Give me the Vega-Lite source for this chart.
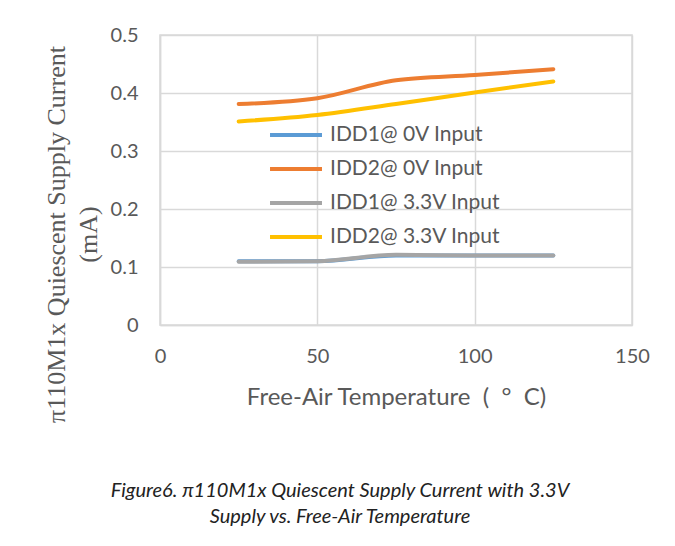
{
  "$schema": "https://vega.github.io/schema/vega-lite/v6.json",
  "width": 472,
  "height": 290,
  "autosize": {"type": "none"},
  "padding": {"left": 160, "top": 35, "right": 43, "bottom": 221},
  "background": "white",
  "data": {
    "values": [
      {"t": 25, "v": 0.11, "s": "IDD1@ 0V Input"},
      {"t": 50, "v": 0.11, "s": "IDD1@ 0V Input"},
      {"t": 75, "v": 0.12, "s": "IDD1@ 0V Input"},
      {"t": 100, "v": 0.12, "s": "IDD1@ 0V Input"},
      {"t": 125, "v": 0.12, "s": "IDD1@ 0V Input"},
      {"t": 25, "v": 0.381, "s": "IDD2@ 0V Input"},
      {"t": 50, "v": 0.391, "s": "IDD2@ 0V Input"},
      {"t": 75, "v": 0.422, "s": "IDD2@ 0V Input"},
      {"t": 100, "v": 0.431, "s": "IDD2@ 0V Input"},
      {"t": 125, "v": 0.441, "s": "IDD2@ 0V Input"},
      {"t": 25, "v": 0.109, "s": "IDD1@ 3.3V Input"},
      {"t": 50, "v": 0.11, "s": "IDD1@ 3.3V Input"},
      {"t": 75, "v": 0.121, "s": "IDD1@ 3.3V Input"},
      {"t": 100, "v": 0.12, "s": "IDD1@ 3.3V Input"},
      {"t": 125, "v": 0.12, "s": "IDD1@ 3.3V Input"},
      {"t": 25, "v": 0.351, "s": "IDD2@ 3.3V Input"},
      {"t": 50, "v": 0.362, "s": "IDD2@ 3.3V Input"},
      {"t": 75, "v": 0.381, "s": "IDD2@ 3.3V Input"},
      {"t": 100, "v": 0.401, "s": "IDD2@ 3.3V Input"},
      {"t": 125, "v": 0.42, "s": "IDD2@ 3.3V Input"}
    ]
  },
  "title": {
    "text": ["Figure6. π110M1x Quiescent Supply Current with 3.3V", "Supply vs. Free-Air Temperature"],
    "orient": "bottom",
    "frame": "group",
    "anchor": "middle",
    "offset": 59,
    "dx": -56,
    "font": "Lato",
    "fontStyle": "italic",
    "fontWeight": "normal",
    "fontSize": 20,
    "lineHeight": 26,
    "color": "#222222"
  },
  "mark": {"type": "line", "interpolate": "monotone", "strokeWidth": 4, "strokeCap": "round"},
  "encoding": {
    "x": {
      "field": "t",
      "type": "quantitative",
      "scale": {"domain": [0, 150], "nice": false},
      "axis": {
        "values": [0, 50, 100, 150],
        "title": "Free-Air Temperature\u00a0\u00a0(\u00a0\u00a0°\u00a0\u00a0C)",
        "titleFont": "Lato",
        "titleFontSize": 24,
        "titleFontWeight": "normal",
        "titleColor": "#595959",
        "titleY": 72,
        "titleBaseline": "middle",
        "labelFont": "Lato",
        "labelFontSize": 20,
        "labelColor": "#595959",
        "labelPadding": 21,
        "labelFlush": false,
        "ticks": false,
        "domainColor": "#d9d9d9",
        "domainWidth": 1.5,
        "gridColor": "#d9d9d9",
        "gridWidth": 1.5
      }
    },
    "y": {
      "field": "v",
      "type": "quantitative",
      "scale": {"domain": [0, 0.5], "nice": false},
      "axis": {
        "values": [0, 0.1, 0.2, 0.3, 0.4, 0.5],
        "labelExpr": "datum.value == 0 ? '0' : format(datum.value, '.1f')",
        "title": ["π110M1x Quiescent Supply Current", "(mA)"],
        "titleFont": "Liberation Serif",
        "titleFontSize": 26,
        "titleFontWeight": "normal",
        "titleColor": "#595959",
        "titleLineHeight": 32,
        "titleX": -117,
        "titleY": 199,
        "titleBaseline": "top",
        "titleAlign": "center",
        "labelFont": "Lato",
        "labelFontSize": 20,
        "labelColor": "#595959",
        "labelPadding": 22,
        "labelFlush": false,
        "ticks": false,
        "domainColor": "#d9d9d9",
        "domainWidth": 1.5,
        "gridColor": "#d9d9d9",
        "gridWidth": 1.5
      }
    },
    "color": {
      "field": "s",
      "type": "nominal",
      "scale": {
        "domain": ["IDD1@ 0V Input", "IDD2@ 0V Input", "IDD1@ 3.3V Input", "IDD2@ 3.3V Input"],
        "range": ["#5B9BD5", "#ED7D31", "#A5A5A5", "#FFC000"]
      },
      "legend": {
        "orient": "none",
        "legendX": 125,
        "legendY": 89,
        "title": null,
        "symbolType": "M-3,0H3",
        "symbolSize": 300,
        "symbolStrokeWidth": 4,
        "labelFont": "Lato",
        "labelFontSize": 21,
        "labelColor": "#595959",
        "labelOffset": 23,
        "labelLimit": 300,
        "rowPadding": 13
      }
    }
  },
  "config": {"view": {"stroke": "#d9d9d9", "strokeWidth": 1.5}}
}
